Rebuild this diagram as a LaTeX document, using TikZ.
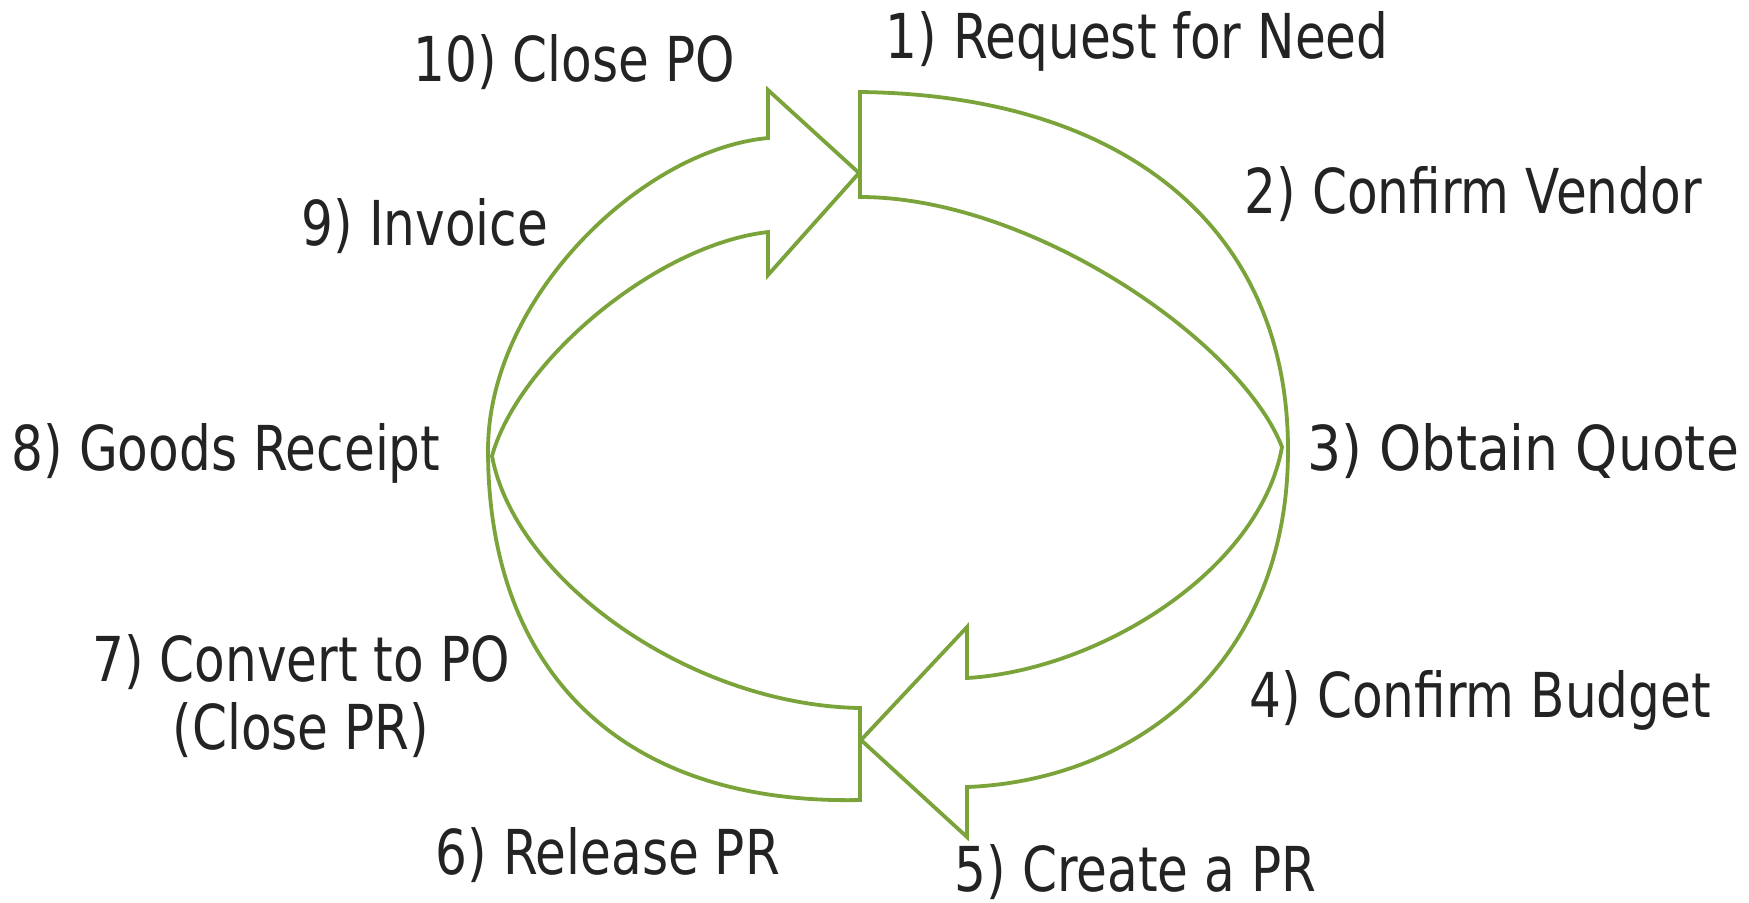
\documentclass[tikz,border=0pt]{standalone}
\usepackage{fontspec}
\usepackage{graphicx}
\setmainfont[FakeStretch=0.81]{DejaVu Sans}
\definecolor{arrowgreen}{RGB}{122,163,58}
\definecolor{labelgray}{RGB}{35,35,35}
\tikzset{
  blockarrow/.style={draw=arrowgreen, line width=0.038cm, line join=miter, fill=none},
  steplabel/.style={anchor=base west, inner sep=0pt, text=labelgray, font=\fontsize{17.6pt}{19.1pt}\selectfont},
}
\begin{document}
\begin{tikzpicture}[x=0.01cm, y=-0.01cm]
\useasboundingbox (0,0) rectangle (1749,902);
% key points of the right-hand (clockwise) arrow
\coordinate (rTailTop) at (860,92);
\coordinate (rTailBot) at (860,197);
\coordinate (rOuterMid) at (1288,450);
\coordinate (rInnerMid) at (1282,447);
\coordinate (rNotchOut) at (967,787);
\coordinate (rBarbOut) at (967,837);
\coordinate (rTip) at (861,740);
\coordinate (rBarbIn) at (967,627);
\coordinate (rNotchIn) at (967,678);
% key points of the left-hand arrow
\coordinate (lTailBot) at (860,800);
\coordinate (lTailTop) at (860,708);
\coordinate (lOuterMid) at (488,450);
\coordinate (lInnerMid) at (492,456);
\coordinate (lNotchOut) at (768,138);
\coordinate (lBarbOut) at (768,90);
\coordinate (lTip) at (859,173);
\coordinate (lBarbIn) at (768,275);
\coordinate (lNotchIn) at (768,232);

\draw[blockarrow] (rTailTop) .. controls (1125,95) and (1288,228) .. (rOuterMid)
  .. controls (1288,660) and (1140,780) .. (rNotchOut)
  -- (rBarbOut) -- (rTip) -- (rBarbIn) -- (rNotchIn)
  .. controls (1100,670) and (1260,570) .. (rInnerMid)
  .. controls (1240,340) and (1030,197) .. (rTailBot) -- cycle;

\draw[blockarrow] (lTailBot) .. controls (620,805) and (488,670) .. (lOuterMid)
  .. controls (488,300) and (640,150) .. (lNotchOut)
  -- (lBarbOut) -- (lTip) -- (lBarbIn) -- (lNotchIn)
  .. controls (655,245) and (518,362) .. (lInnerMid)
  .. controls (515,580) and (690,705) .. (lTailTop) -- cycle;

\node[steplabel] (s10) at (413,81) {10) Close PO};
\node[steplabel] (s1) at (885,58) {1) Request for Need};
\node[steplabel] (s2) at (1244,213) {2) Confirm Vendor};
\node[steplabel] (s9) at (301,245) {9) Invoice};
\node[steplabel] (s8) at (11,470) {8) Goods Receipt};
\node[steplabel] (s3) at (1307,470) {\scalebox{1.07}[1]{3) Obtain Quote}};
\node[steplabel, anchor=base, align=center] (s7) at (301,749) {7) Convert to PO\\(Close PR)};
\node[steplabel] (s4) at (1249,717) {4) Confirm Budget};
\node[steplabel] (s6) at (435,874) {6) Release PR};
\node[steplabel] (s5) at (954,891) {5) Create a PR};
\end{tikzpicture}
\end{document}
